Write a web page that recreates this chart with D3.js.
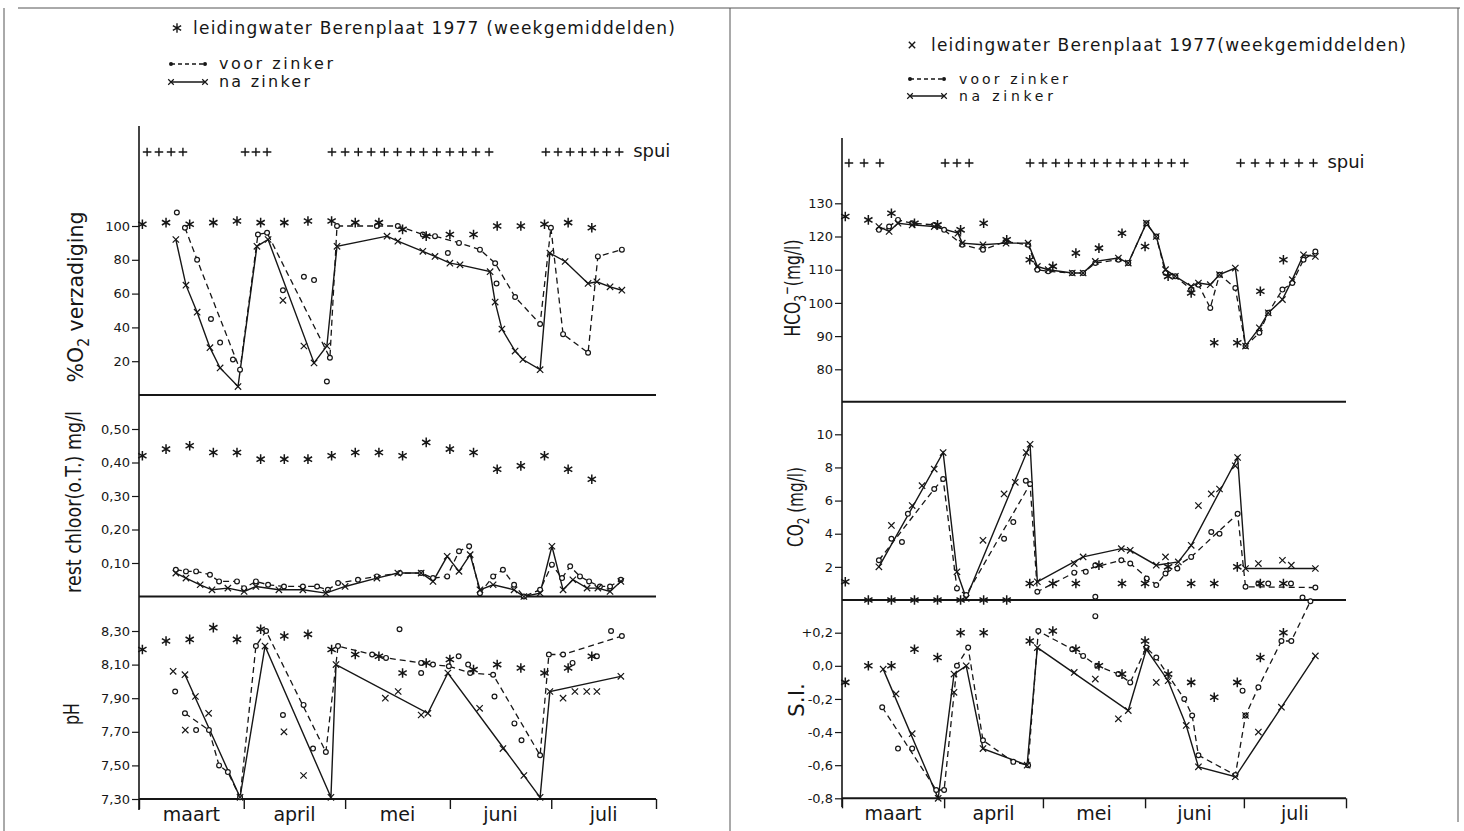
<!DOCTYPE html>
<html lang="nl">
<head>
<meta charset="utf-8">
<title>Leidingwater Berenplaat 1977</title>
<script src="https://cdn.jsdelivr.net/npm/d3@7"></script>
<style>
  body { margin: 0; background: #fff; }
  svg { display: block; font-family: "DejaVu Sans", sans-serif; }
</style>
</head>
<body>
<div id="grafiek"></div>
<script>
// Tijdas: dagen vanaf 1 maart 1977
const maanden = ["maart", "april", "mei", "juni", "juli"];
const maandGrenzen = [0, 31, 61, 92, 122, 153];
const weken = [1, 8, 15, 22, 29, 36, 43, 50, 57, 64, 71, 78, 85, 92, 99, 106, 113, 120, 127, 134];

// Spuidagen (+ + +)
const spuiLinks = [2.4, 5.9, 9.5, 13, 31.4, 34.6, 37.9, 57.1, 61, 64.9, 68.7, 72.6, 76.5, 80.4, 84.2, 88.1, 92, 95.8, 99.7, 103.6, 120.4, 124, 127.6, 131.2, 134.8, 138.4, 142.1];
const spuiRechts = [2.1, 6.7, 11.5, 31.3, 34.9, 38.6, 57.1, 61, 64.9, 68.8, 72.7, 76.6, 80.5, 84.4, 88.3, 92.2, 96.1, 100, 103.9, 121, 125.4, 129.9, 134.3, 138.7, 143.1];

// Tick-waarden
const o2Ticks = [20, 40, 60, 80, 100];
const chloorTicks = [0.1, 0.2, 0.3, 0.4, 0.5];
const phTicks = [7.3, 7.5, 7.7, 7.9, 8.1, 8.3];
const hco3Ticks = [80, 90, 100, 110, 120, 130];
const co2Ticks = [2, 4, 6, 8, 10];
const siTicks = [-0.8, -0.6, -0.4, -0.2, 0, 0.2];

// Leidingwater Berenplaat (weekgemiddelden)
const o2Leiding = [101, 102, 101, 102, 103, 102, 102, 103, 103, 102, 102, 98, 94, 95, 95, 100, 100, 101, 102, 99];
const chloorLeiding = [0.42, 0.44, 0.45, 0.43, 0.43, 0.41, 0.41, 0.41, 0.42, 0.43, 0.43, 0.42, 0.46, 0.44, 0.43, 0.38, 0.39, 0.42, 0.38, 0.35];
const phLeiding = [8.19, 8.24, 8.25, 8.32, 8.25, 8.31, 8.27, 8.28, 8.19, 8.16, 8.15, 8.05, 8.11, 8.13, 8.07, 8.10, 8.08, 8.05, 8.08, 8.15];
const hco3Leiding = [126, 125, 127, 124, 123.5, 122, 124, 119, 113, 111, 115, 116.5, 121, 117, 108, 103, 88, 88, 103.5, 113];
const co2Leiding = [1.1, 0, 0, 0, 0, 0, 0, 0, 1.0, 1.0, 1.0, 2.1, 1.0, 1.0, 2.0, 1.0, 1.0, 2.0, 1.0, 1.0];
const siLeiding = [-0.10, 0.0, 0.0, 0.10, 0.05, 0.20, 0.20, null, 0.15, 0.21, 0.10, 0.0, -0.05, 0.15, -0.05, -0.10, -0.19, -0.10, 0.05, 0.20];

// % O2 verzadiging
const o2Voor = [[13.6, 99], [17.2, 80], [29.9, 15], [35.2, 95], [37.9, 96], [56.5, 22], [58.6, 100], [70.4, 100], [76.6, 100], [84, 95], [87.6, 94], [94.7, 90], [100.9, 86], [105.4, 78], [111.3, 58], [118.7, 42], [121.9, 99], [125.5, 36], [132.9, 25], [135.8, 82], [142.9, 86]];
const o2Na = [[10.9, 92], [13.9, 65], [17.2, 49], [21, 28], [24, 16], [29.3, 5], [34.9, 88], [38.2, 92], [51.8, 19], [55.6, 29], [58.6, 88], [73.4, 94], [76.6, 91], [84, 85], [87.6, 82], [92, 78], [95, 77], [103.9, 73], [105.4, 55], [107.4, 39], [111.3, 26], [113.6, 21], [118.7, 15], [121.6, 84], [126.1, 79], [132.9, 66], [135.5, 67], [139.4, 64], [142.9, 62]];
const o2VoorLos = [[11.2, 108], [21.3, 45], [24, 31], [27.8, 21], [42.6, 62], [48.8, 70], [51.8, 68], [55.6, 8], [91.4, 84], [105.8, 66]];
const o2NaLos = [[42.6, 56], [48.8, 29]];

// restchloor (o.T.) mg/l
const chloorVoor = [[10.9, 0.08], [13.9, 0.075], [16.9, 0.075], [21, 0.065], [23.7, 0.045], [29, 0.045], [31.1, 0.025], [34.6, 0.045], [38.2, 0.035], [42.9, 0.03], [48.5, 0.03], [52.7, 0.03], [55.9, 0.02], [58.9, 0.04], [64.8, 0.05], [70.4, 0.06], [77.2, 0.07], [83.5, 0.07], [87, 0.055], [91.2, 0.06], [94.7, 0.135], [97.7, 0.15], [100.9, 0.01], [104.8, 0.06], [107.7, 0.08], [111, 0.035], [113.9, 0], [118.7, 0.02], [122.2, 0.095], [125.2, 0.055], [127.6, 0.09], [130.5, 0.06], [133.2, 0.045], [136.4, 0.03], [139.4, 0.03], [142.6, 0.05]];
const chloorNa = [[10.9, 0.07], [13.9, 0.055], [18.1, 0.035], [21.6, 0.02], [26.3, 0.025], [31.1, 0.015], [34.6, 0.03], [41.4, 0.02], [48.5, 0.02], [55.3, 0.01], [61, 0.03], [70.4, 0.055], [76.6, 0.07], [83.5, 0.07], [87, 0.045], [91.2, 0.12], [94.7, 0.075], [98, 0.125], [100.9, 0.02], [104.8, 0.035], [111, 0.02], [113.9, 0], [118.7, 0.01], [122.2, 0.15], [125.5, 0.02], [128.4, 0.05], [132.6, 0.025], [135.8, 0.025], [139.4, 0.015], [142.6, 0.045]];

// pH
const phVoor = [[13.6, 7.81], [20.7, 7.71], [23.7, 7.50], [26.3, 7.46], [29.9, 7.31], [34.6, 8.21], [37.6, 8.30], [55.3, 7.58], [58.9, 8.21], [69, 8.16], [73.1, 8.14], [83.5, 8.11], [87, 8.10], [91.7, 8.09], [98, 8.05], [104.8, 8.04], [118.7, 7.56], [121.3, 8.16], [125.5, 8.16], [142.9, 8.27]];
const phNa = [[13.6, 8.04], [29.9, 7.31], [37.3, 8.21], [56.8, 7.31], [58.3, 8.10], [85.5, 7.81], [91.4, 8.05], [118.7, 7.31], [121.6, 7.94], [142.6, 8.03]];
const phVoorLos = [[10.7, 7.94], [16.9, 7.71], [42.6, 7.80], [48.7, 7.86], [51.5, 7.60], [77.1, 8.31], [83.5, 8.05], [94.6, 8.15], [97.4, 8.10], [105.2, 7.91], [111.1, 7.75], [113.2, 7.65], [128.3, 8.11], [135.5, 8.15], [139.7, 8.30]];
const phNaLos = [[10.1, 8.06], [16.7, 7.91], [20.6, 7.81], [13.7, 7.71], [42.9, 7.70], [48.7, 7.44], [72.9, 7.90], [76.7, 7.94], [83.5, 7.80], [100.8, 7.84], [107.7, 7.60], [113.9, 7.44], [125.5, 7.90], [129, 7.94], [132.5, 7.94], [135.5, 7.94]];

// HCO3- (mg/l)
const hco3Voor = [[11.2, 122], [14.3, 123], [17, 125], [21.3, 124], [28, 123.5], [31, 122], [36.5, 117.5], [42.8, 116], [49.8, 118.5], [56.5, 117.5], [59.3, 110], [62.6, 109.5], [69.9, 109], [73.2, 109], [76.9, 112], [83.9, 113], [86.9, 112], [92.4, 124], [95.4, 120], [98.2, 109], [101.2, 108], [106, 104], [108.2, 105.5], [111.8, 98.5], [114.6, 108.5], [119.4, 104.5], [122.5, 87], [126.7, 91], [129.4, 97], [133.7, 104], [136.7, 106], [140.1, 113], [143.7, 115.5]];
const hco3Na = [[11.2, 123], [14.3, 121.5], [17, 124], [21.3, 123.5], [28, 123], [35.2, 121], [36.5, 118], [42.8, 117.5], [49.8, 118], [56.5, 118], [59.3, 111], [62.6, 110], [69.9, 109], [73.2, 109], [76.9, 112.5], [83.9, 113.5], [86.9, 112], [92.4, 124], [95.4, 120], [98.2, 110], [101.2, 108], [106, 105], [108.2, 106], [111.8, 105.5], [114.6, 108.5], [119.4, 110.5], [122.5, 87], [126.7, 92.5], [129.4, 97], [133.7, 101], [136.7, 107], [140.1, 114.5], [143.7, 114]];

// CO2 (mg/l)
const co2Voor = [[11.2, 2.4], [28, 6.7], [30.7, 7.3], [34.9, 0.7], [37.7, 0.3], [57.1, 7.0], [59.3, 0.5], [70.5, 1.65], [84.8, 2.4], [87.5, 2.2], [95.4, 0.9], [98.2, 1.6], [106, 2.6], [120.1, 5.2], [122.5, 0.8], [143.7, 0.75]];
const co2Na = [[11.2, 2.0], [30.7, 8.9], [34.9, 1.7], [37.7, 0.1], [57.1, 9.4], [59.3, 1.1], [73.2, 2.6], [84.8, 3.1], [87.5, 3.0], [95.4, 2.1], [102.1, 2.3], [106, 3.3], [120.1, 8.6], [122.5, 1.9], [143.7, 1.9]];
const co2VoorLos = [[15, 3.7], [20, 5.2], [18.2, 3.5], [49.2, 3.7], [52, 4.7], [55.8, 7.2], [74, 1.7], [76.9, 2.1], [76.9, 0.2], [92.5, 1.3], [101.8, 1.9], [112.1, 4.1], [114.6, 4.0], [126.4, 1.0], [129.4, 1.0], [136.3, 1.0], [139.8, 0.15]];
const co2NaLos = [[15, 4.5], [21.3, 5.7], [24.3, 6.9], [28, 7.9], [42.8, 3.6], [49.2, 6.4], [52.6, 7.1], [55.9, 8.9], [70.5, 2.2], [98.2, 2.6], [108.2, 5.7], [112.1, 6.4], [114.6, 6.7], [119.4, 8.1], [126.4, 2.2], [133.7, 2.4], [136.4, 2.1]];

// verzadigingsindex S.I.
const siVoor = [[12.2, -0.25], [28.6, -0.75], [31, -0.75], [34.9, 0.0], [38.3, 0.11], [42.8, -0.45], [52, -0.58], [56.5, -0.60], [59.6, 0.21], [69.9, 0.10], [73.2, 0.06], [77.5, 0.0], [83.9, -0.05], [87.5, -0.10], [92.4, 0.11], [95.4, 0.05], [103.9, -0.20], [106.3, -0.30], [108.2, -0.54], [119.4, -0.66], [122.5, -0.30], [126.4, -0.13], [133.4, 0.15], [136.4, 0.15], [142.2, 0.39]];
const siNa = [[12.5, -0.02], [29.2, -0.80], [34, -0.05], [37.7, 0.0], [42.8, -0.50], [56.2, -0.60], [59.3, 0.11], [86.9, -0.27], [92.4, 0.10], [99, -0.09], [104.5, -0.36], [108.2, -0.61], [119.4, -0.67], [143.7, 0.06]];
const siVoorLos = [[17, -0.50], [21.3, -0.50], [76.9, 0.30], [121.6, -0.15]];
const siNaLos = [[16.4, -0.17], [21.3, -0.41], [34, -0.16], [70.5, -0.04], [76.9, -0.08], [83.9, -0.32], [95.4, -0.10], [122.5, -0.30], [126.4, -0.40], [133.4, -0.25]];

const inkt = "#161616";

// Nederlandse getalnotatie (komma)
const nl = d3.formatLocale({ decimal: ",", thousands: ".", grouping: [3], currency: ["", ""], minus: "-" });
const fmtGeheel = nl.format("d");
const fmtTwee = nl.format(".2f");
const fmtEen = nl.format(".1f");
const fmtSI = v => (v > 0.001 ? "+" : "") + fmtEen(Math.abs(v) < 1e-9 ? 0 : v);

const svg = d3.select("#grafiek")
    .append("svg")
    .attr("width", 1464)
    .attr("height", 831);

// Kader van de pagina
const kader = [[18, 8, 1460, 8], [4, 8, 4, 831], [730, 8, 730, 831], [1458, 8, 1458, 822]];
svg.append("g").selectAll("line")
    .data(kader)
    .join("line")
    .attr("x1", d => d[0]).attr("y1", d => d[1])
    .attr("x2", d => d[2]).attr("y2", d => d[3])
    .attr("stroke", "#555").attr("stroke-width", 1);

const ster = d3.symbol(d3.symbolAsterisk, 64);
const kruis = d3.symbol(d3.symbolTimes || d3.symbolX, 28);
const plus = d3.symbol(d3.symbolPlus, 26);

const xLinks = d3.scaleLinear().domain([0, 153]).range([139, 656]);
const xRechts = d3.scaleLinear().domain([0, 153]).range([842, 1346]);

const panelenLinks = [
    { y: d3.scaleLinear().domain([0, 100]).range([395, 226]), onder: 395, ticks: o2Ticks, fmt: fmtGeheel,
      leiding: o2Leiding, voor: o2Voor, na: o2Na, voorLos: o2VoorLos, naLos: o2NaLos,
      titel: [["%O"], ["2", "sub"], [" verzadiging"]], titelX: 83, titelY: 297, titelLengte: 171 },
    { y: d3.scaleLinear().domain([0, 0.5]).range([596.5, 429]), onder: 596.5, ticks: chloorTicks, fmt: fmtTwee,
      leiding: chloorLeiding, voor: chloorVoor, na: chloorNa, voorLos: [], naLos: [],
      titel: [["rest chloor(o.T.) mg/l"]], titelX: 81, titelY: 502, titelLengte: 182 },
    { y: d3.scaleLinear().domain([7.3, 8.3]).range([799, 631]), onder: 799, ticks: phTicks, fmt: fmtTwee,
      leiding: phLeiding, voor: phVoor, na: phNa, voorLos: phVoorLos, naLos: phNaLos,
      titel: [["pH"]], titelX: 79, titelY: 714, titelLengte: 22 }
];

const panelenRechts = [
    { y: d3.scaleLinear().domain([80, 130]).range([369.3, 203.3]), onder: 401.7, ticks: hco3Ticks, fmt: fmtGeheel,
      leiding: hco3Leiding, voor: hco3Voor, na: hco3Na, voorLos: [], naLos: [],
      titel: [["HCO"], ["3", "sub"], ["\u2212", "sup"], ["(mg/l)"]], titelX: 800, titelY: 288, titelLengte: 97 },
    { y: d3.scaleLinear().domain([0, 10]).range([600, 434.3]), onder: 600, ticks: co2Ticks, fmt: fmtGeheel,
      leiding: co2Leiding, voor: co2Voor, na: co2Na, voorLos: co2VoorLos, naLos: co2NaLos,
      titel: [["CO"], ["2", "sub"], [" (mg/l)"]], titelX: 803, titelY: 507, titelLengte: 80 },
    { y: d3.scaleLinear().domain([-0.8, 0.2]).range([798.3, 632.7]), onder: 798.3, ticks: siTicks, fmt: fmtSI,
      leiding: siLeiding, voor: siVoor, na: siNa, voorLos: siVoorLos, naLos: siNaLos,
      titel: [["S.I."]], titelX: 804, titelY: 700, titelLengte: 34 }
];

function tekenTitel(g, p) {
    const t = g.append("text")
        .attr("font-size", 22)
        .attr("fill", inkt)
        .attr("text-anchor", "middle");
    let vorige = 0;
    p.titel.forEach(([tekst, soort]) => {
        const verschuiving = soort === "sub" ? 6 : soort === "sup" ? -8 : 0;
        t.append("tspan")
            .attr("dy", verschuiving - vorige)
            .attr("font-size", soort ? 15 : 22)
            .text(tekst);
        vorige = verschuiving;
    });
    const k = p.titelLengte / t.node().getComputedTextLength();
    t.attr("transform", `translate(${p.titelX},${p.titelY}) rotate(-90) scale(${k},1)`);
}

function tekenPaneel(x, p) {
    const g = svg.append("g");
    const [x0, x1] = x.range();

    // y-as met ticks links
    g.append("g")
        .attr("transform", `translate(${x0},0)`)
        .call(d3.axisLeft(p.y).tickValues(p.ticks).tickFormat(p.fmt).tickSize(7).tickPadding(2))
        .call(a => a.select(".domain").remove())
        .call(a => a.selectAll("line").attr("stroke", inkt).attr("stroke-width", 1.2))
        .call(a => a.selectAll("text").attr("font-size", 13).attr("fill", inkt).attr("font-family", "DejaVu Sans, sans-serif"));

    // onderlijn van het paneel
    g.append("line")
        .attr("x1", x0).attr("x2", x1)
        .attr("y1", p.onder).attr("y2", p.onder)
        .attr("stroke", inkt).attr("stroke-width", 2);

    const lijn = d3.line().x(d => x(d[0])).y(d => p.y(d[1]));

    g.append("path").datum(p.voor)
        .attr("d", lijn).attr("fill", "none")
        .attr("stroke", inkt).attr("stroke-width", 1.3).attr("stroke-dasharray", "6,4");

    g.append("path").datum(p.na)
        .attr("d", lijn).attr("fill", "none")
        .attr("stroke", inkt).attr("stroke-width", 1.4);

    // meetpunten voor zinker (o)
    g.append("g").selectAll("circle")
        .data(p.voor.concat(p.voorLos))
        .join("circle")
        .attr("cx", d => x(d[0])).attr("cy", d => p.y(d[1]))
        .attr("r", 2.4)
        .attr("fill", "#fff").attr("stroke", inkt).attr("stroke-width", 1.2);

    // meetpunten na zinker (x)
    g.append("g").selectAll("path")
        .data(p.na.concat(p.naLos))
        .join("path")
        .attr("transform", d => `translate(${x(d[0])},${p.y(d[1])})`)
        .attr("d", kruis)
        .attr("fill", "none").attr("stroke", inkt).attr("stroke-width", 1.2);

    // leidingwater (*)
    g.append("g").selectAll("path")
        .data(weken.map((w, i) => [w, p.leiding[i]]).filter(d => d[1] != null))
        .join("path")
        .attr("transform", d => `translate(${x(d[0])},${p.y(d[1])})`)
        .attr("d", ster)
        .attr("fill", "none").attr("stroke", inkt).attr("stroke-width", 1.5);

    tekenTitel(g, p);
}

function tekenGrafiek(x, panelen, asBoven, asOnder, spui, spuiY) {
    const [x0, x1] = x.range();
    panelen.forEach(p => tekenPaneel(x, p));

    // verticale as
    svg.append("line")
        .attr("x1", x0).attr("x2", x0)
        .attr("y1", asBoven).attr("y2", asOnder)
        .attr("stroke", inkt).attr("stroke-width", 1.6);

    // maandgrenzen
    const onder = panelen[panelen.length - 1].onder;
    svg.append("g")
        .attr("transform", `translate(0,${onder})`)
        .call(d3.axisBottom(x).tickValues(maandGrenzen).tickFormat("").tickSize(10))
        .call(a => a.select(".domain").remove())
        .call(a => a.selectAll("line").attr("stroke", inkt).attr("stroke-width", 1.4));

    svg.append("g").selectAll("text")
        .data(maanden)
        .join("text")
        .attr("x", (d, i) => x((maandGrenzen[i] + maandGrenzen[i + 1]) / 2))
        .attr("y", onder + 22)
        .attr("text-anchor", "middle")
        .attr("font-size", 19)
        .attr("fill", inkt)
        .text(d => d);

    // spuien
    svg.append("g").selectAll("path")
        .data(spui)
        .join("path")
        .attr("transform", d => `translate(${x(d)},${spuiY})`)
        .attr("d", plus)
        .attr("fill", "none").attr("stroke", inkt).attr("stroke-width", 1.4);

    svg.append("text")
        .attr("x", x(spui[spui.length - 1]) + 14)
        .attr("y", spuiY + 5)
        .attr("font-size", 18)
        .attr("fill", inkt)
        .text("spui");
}

tekenGrafiek(xLinks, panelenLinks, 126, 810, spuiLinks, 152);
tekenGrafiek(xRechts, panelenRechts, 138, 807, spuiRechts, 163);

// Legenda's
function tekenLegenda(opties) {
    const g = svg.append("g");
    g.append("path")
        .attr("transform", `translate(${opties.symboolX},${opties.regel1 - 6})`)
        .attr("d", opties.symbool)
        .attr("fill", "none").attr("stroke", inkt).attr("stroke-width", 1.4);
    g.append("text")
        .attr("x", opties.tekstX).attr("y", opties.regel1)
        .attr("font-size", 17).attr("fill", inkt)
        .attr("textLength", opties.lengte1).attr("lengthAdjust", "spacing")
        .text(opties.tekst1);

    const regels = [
        { y: opties.regel2, tekst: "voor zinker", streep: "4,3", lengte: opties.lengte2, soort: "voor" },
        { y: opties.regel3, tekst: "na zinker", streep: null, lengte: opties.lengte3, soort: "na" }
    ];
    regels.forEach(r => {
        g.append("line")
            .attr("x1", opties.lijnX).attr("x2", opties.lijnX + 34)
            .attr("y1", r.y - 5).attr("y2", r.y - 5)
            .attr("stroke", inkt).attr("stroke-width", 1.3)
            .attr("stroke-dasharray", r.streep);
        [opties.lijnX, opties.lijnX + 34].forEach(px => {
            if (r.soort === "voor") {
                g.append("circle").attr("cx", px).attr("cy", r.y - 5).attr("r", 2).attr("fill", inkt);
            } else {
                g.append("path").attr("transform", `translate(${px},${r.y - 5})`)
                    .attr("d", d3.symbol(d3.symbolTimes || d3.symbolX, 22))
                    .attr("fill", "none").attr("stroke", inkt).attr("stroke-width", 1.2);
            }
        });
        g.append("text")
            .attr("x", opties.tekstX2).attr("y", r.y)
            .attr("font-size", opties.regelGrootte).attr("fill", inkt)
            .attr("textLength", r.lengte).attr("lengthAdjust", "spacing")
            .text(r.tekst);
    });
}

tekenLegenda({
    symbool: ster, symboolX: 177, tekstX: 193, regel1: 34, lengte1: 482,
    tekst1: "leidingwater Berenplaat 1977 (weekgemiddelden)",
    lijnX: 171, tekstX2: 219, regel2: 69, regel3: 87, lengte2: 114, lengte3: 91, regelGrootte: 16
});

tekenLegenda({
    symbool: kruis, symboolX: 912, tekstX: 931, regel1: 51, lengte1: 475,
    tekst1: "leidingwater Berenplaat 1977(weekgemiddelden)",
    lijnX: 910, tekstX2: 959, regel2: 84, regel3: 101, lengte2: 109, lengte3: 94, regelGrootte: 14
});
</script>
</body>
</html>
